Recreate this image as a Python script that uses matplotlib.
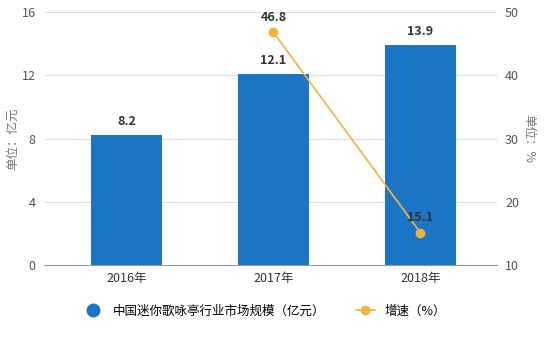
import matplotlib.pyplot as plt
import numpy as np
from matplotlib.lines import Line2D

plt.rcParams['font.family'] = ['Noto Sans CJK SC', 'DejaVu Sans']

years = ['2016年', '2017年', '2018年']
market_size = [8.2, 12.1, 13.9]
growth_years = [1, 2]
growth = [46.8, 15.1]

bar_color = '#1a75c4'
line_color = '#f0b43c'

fig = plt.figure(figsize=(5.52, 3.45), dpi=100)
ax = fig.add_axes([0.08, 0.232, 0.82, 0.733])
x = np.arange(len(years))
ax.bar(x, market_size, width=0.48, color=bar_color, zorder=2,
       label='中国迷你歌咏亭行业市场规模（亿元）')
for xi, v in zip(x, market_size):
    ax.text(xi, v + 0.45, f'{v}', ha='center', va='bottom', fontsize=9,
            fontweight='bold', color='#333333')
ax.set_ylim(0, 16)
ax.set_yticks([0, 4, 8, 12, 16])
ax.set_xlim(-0.56, 2.52)
ax.set_xticks(x)
ax.set_xticklabels(years)
ax.grid(axis='y', color='#dddddd', linewidth=0.8, zorder=0)
for s in ['top', 'right', 'left']:
    ax.spines[s].set_visible(False)
ax.spines['bottom'].set_color('#999999')
ax.tick_params(axis='y', length=0, labelsize=9, colors='#555555', pad=6)
ax.tick_params(axis='x', length=0, labelsize=9, colors='#333333', pad=5)
ax.set_ylabel('单位：亿元', fontsize=9, color='#777777', labelpad=2)

ax2 = ax.twinx()
ax2.plot(growth_years, growth, color=line_color, linewidth=1.2, marker='o',
         markersize=6, zorder=3, label='增速（%）')
for xi, v in zip(growth_years, growth):
    ax2.text(xi, v + 1.3, f'{v}', ha='center', va='bottom', fontsize=9,
             fontweight='bold', color='#333333')
ax2.set_ylim(10, 50)
ax2.set_yticks([10, 20, 30, 40, 50])
for s in ['top', 'right', 'left', 'bottom']:
    ax2.spines[s].set_visible(False)
ax2.tick_params(axis='y', length=0, labelsize=9, colors='#555555', pad=6)
ax2.set_ylabel('单位：%', fontsize=9, color='#777777', rotation=270, labelpad=12)

l1 = ax.get_legend_handles_labels()[1]
h2, l2 = ax2.get_legend_handles_labels()
h1 = [Line2D([], [], marker='o', color=bar_color, linestyle='none', markersize=9)]
fig.legend(h1 + h2, l1 + l2, loc='center', bbox_to_anchor=(0.48, 0.098), ncol=2,
           frameon=False, fontsize=9, handlelength=1.5, columnspacing=2.5)

fig.savefig('out.png', dpi=100)
